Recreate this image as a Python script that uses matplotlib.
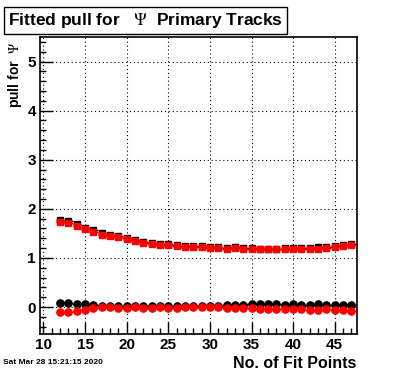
import matplotlib
matplotlib.use("Agg")
import matplotlib.pyplot as plt
from matplotlib.ticker import MultipleLocator

plt.rcParams['font.family'] = ['Liberation Sans', 'DejaVu Sans']
plt.rcParams['mathtext.fontset'] = 'stix'

# number of fit points
n_fit = list(range(12, 48))

# pull, black squares (drawn underneath)
black_sq = [1.78, 1.76, 1.69, 1.62, 1.56, 1.50, 1.47, 1.44, 1.40, 1.36, 1.33, 1.31,
            1.29, 1.29, 1.27, 1.25, 1.24, 1.24, 1.23, 1.23, 1.21, 1.22, 1.21, 1.20,
            1.19, 1.19, 1.19, 1.20, 1.20, 1.20, 1.21, 1.22, 1.23, 1.24, 1.27, 1.29]
# pull, red squares
red_sq = [1.74, 1.72, 1.66, 1.59, 1.53, 1.47, 1.45, 1.42, 1.38, 1.34, 1.31, 1.29,
          1.27, 1.27, 1.25, 1.23, 1.22, 1.22, 1.21, 1.21, 1.19, 1.20, 1.19, 1.18,
          1.175, 1.175, 1.175, 1.18, 1.18, 1.18, 1.19, 1.19, 1.21, 1.22, 1.245, 1.26]
# mean, black circles
black_circ = [0.085, 0.085, 0.065, 0.065, 0.035, 0.02, 0.025, 0.03, 0.02, 0.025, 0.02, 0.025,
              0.02, 0.02, 0.025, 0.02, 0.02, 0.025, 0.025, 0.03, 0.035, 0.04, 0.04, 0.055,
              0.055, 0.055, 0.055, 0.05, 0.055, 0.05, 0.05, 0.055, 0.05, 0.05, 0.05, 0.05]
# mean, red circles
red_circ = [-0.10, -0.10, -0.075, -0.055, -0.02, 0.0, -0.005, -0.01, -0.01, -0.005, -0.01, -0.01,
            -0.005, -0.01, -0.02, -0.005, 0.0, -0.005, 0.0, -0.005, -0.01, -0.015, -0.02, -0.015,
            -0.03, -0.035, -0.03, -0.035, -0.035, -0.045, -0.05, -0.05, -0.045, -0.05, -0.05, -0.08]

fig = plt.figure(figsize=(3.96, 3.72), dpi=100)
ax = fig.add_axes([0.101, 0.102, 0.80, 0.7985])

series = [(black_sq, 'black', 's'), (red_sq, 'red', 's'),
          (black_circ, 'black', 'o'), (red_circ, 'red', 'o')]
for vals, col, mk in series:
    ax.errorbar(n_fit, vals, xerr=0.5, fmt=mk, color=col, ms=4.7 if mk == 's' else 5.2,
                mec=col, mfc=col, elinewidth=1.0, capsize=0, zorder=3)

ax.set_xlim(9.58, 47.65)
ax.set_ylim(-0.55, 5.5)
ax.xaxis.set_major_locator(MultipleLocator(5))
ax.xaxis.set_minor_locator(MultipleLocator(1))
ax.yaxis.set_major_locator(MultipleLocator(1))
ax.yaxis.set_minor_locator(MultipleLocator(0.2))
ax.tick_params(which='both', direction='in', top=False, right=False,
               labelsize=11, width=1, pad=3)
ax.tick_params(which='major', length=9)
ax.tick_params(which='minor', length=4.5)
for lab in ax.get_xticklabels() + ax.get_yticklabels():
    lab.set_fontweight('bold')
ax.grid(True, which='major', linestyle=(0, (1, 2.5)), color='black', linewidth=0.8)
for sp in ax.spines.values():
    sp.set_linewidth(1.2)

ax.set_xlabel('No. of Fit Points', fontsize=11.5, fontweight='bold', ha='right', va='center')
ax.xaxis.set_label_coords(1.0, -0.098)
ax.set_ylabel(r'pull for  $\Psi$', fontsize=10, fontweight='bold', ha='right', va='center')
ax.yaxis.set_label_coords(-0.079, 0.985)

fig.text(0.02, 0.945, r'Fitted pull for   $\Psi$  Primary Tracks', fontsize=12.5,
         fontweight='bold', ha='left', va='center',
         bbox=dict(boxstyle='square,pad=0.22', fc='white', ec='black', lw=1.0))
fig.text(0.008, 0.016, 'Sat Mar 28 15:21:15 2020', fontsize=6, fontweight='bold',
         ha='left', va='bottom')

fig.savefig('out.png', dpi=100)
